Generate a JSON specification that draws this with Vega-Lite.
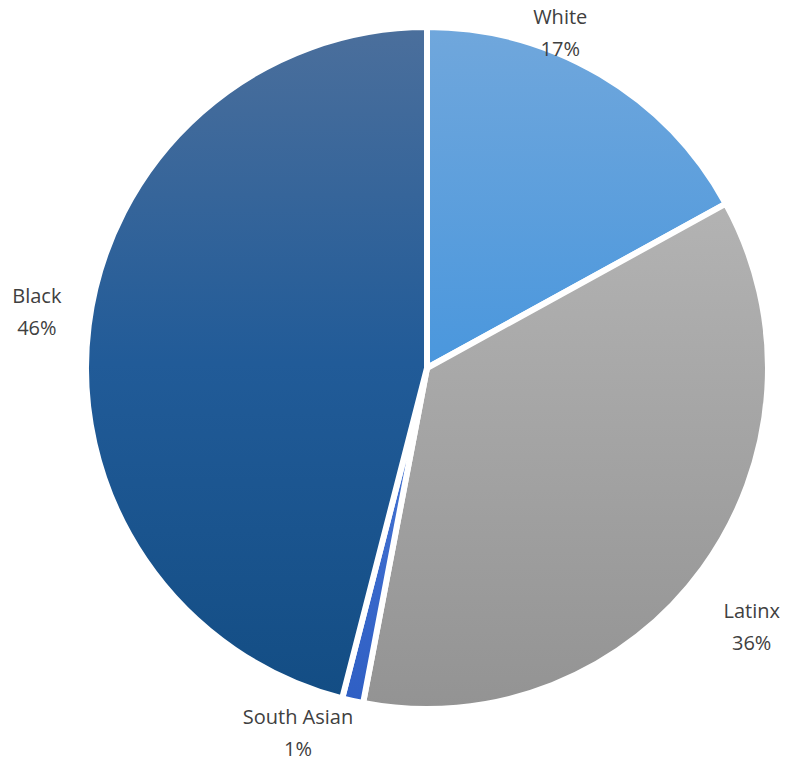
{
  "$schema": "https://vega.github.io/schema/vega-lite/v6.json",
  "width": 718,
  "height": 736,
  "autosize": {"type": "none"},
  "padding": {"left": 68, "top": 0, "right": 0, "bottom": 24},
  "background": "white",
  "data": {
    "values": [
      {"cat": "White", "value": 17, "label": "White\n17%"},
      {"cat": "Latinx", "value": 36, "label": "Latinx\n36%"},
      {"cat": "South Asian", "value": 1, "label": "South Asian\n1%"},
      {"cat": "Black", "value": 46, "label": "Black\n46%"}
    ]
  },
  "transform": [
    {"stack": "value", "groupby": [], "as": ["v0", "v1"]}
  ],
  "layer": [
    {
      "transform": [{"filter": "datum.cat === 'White'"}],
      "mark": {
        "type": "arc", "radius": 341, "stroke": "white", "strokeWidth": 6,
        "color": {"gradient": "linear", "x1": 0, "y1": 0, "x2": 0, "y2": 1,
          "stops": [{"offset": 0, "color": "#70a7dc"}, {"offset": 1, "color": "#4a97dd"}]}
      },
      "encoding": {
        "theta": {"field": "v0", "type": "quantitative", "scale": {"domain": [0, 100]}},
        "theta2": {"field": "v1"}
      }
    },
    {
      "transform": [{"filter": "datum.cat === 'Latinx'"}],
      "mark": {
        "type": "arc", "radius": 341, "stroke": "white", "strokeWidth": 6,
        "color": {"gradient": "linear", "x1": 0, "y1": 0, "x2": 0, "y2": 1,
          "stops": [{"offset": 0, "color": "#b3b3b3"}, {"offset": 1, "color": "#939393"}]}
      },
      "encoding": {
        "theta": {"field": "v0", "type": "quantitative", "scale": {"domain": [0, 100]}},
        "theta2": {"field": "v1"}
      }
    },
    {
      "transform": [{"filter": "datum.cat === 'South Asian'"}],
      "mark": {
        "type": "arc", "radius": 341, "stroke": "white", "strokeWidth": 6,
        "color": {"gradient": "linear", "x1": 0, "y1": 0, "x2": 0, "y2": 1,
          "stops": [{"offset": 0, "color": "#4a78d6"}, {"offset": 1, "color": "#2f5fc4"}]}
      },
      "encoding": {
        "theta": {"field": "v0", "type": "quantitative", "scale": {"domain": [0, 100]}},
        "theta2": {"field": "v1"}
      }
    },
    {
      "transform": [{"filter": "datum.cat === 'Black'"}],
      "mark": {
        "type": "arc", "radius": 341, "stroke": "white", "strokeWidth": 6,
        "color": {"gradient": "linear", "x1": 0, "y1": 0, "x2": 0, "y2": 1,
          "stops": [{"offset": 0, "color": "#4b6f9c"}, {"offset": 0.5, "color": "#215b98"}, {"offset": 1, "color": "#134d84"}]}
      },
      "encoding": {
        "theta": {"field": "v0", "type": "quantitative", "scale": {"domain": [0, 100]}},
        "theta2": {"field": "v1"}
      }
    },
    {
      "mark": {"type": "text", "font": "Open Sans", "fontSize": 20, "letterSpacing": 0.7, "color": "#404040", "lineBreak": "\n", "lineHeight": 32, "align": "center", "baseline": "middle", "dy": -16, "thetaOffset": -0.155},
      "encoding": {
        "theta": {"field": "value", "type": "quantitative", "stack": true},
        "order": {"field": "v0", "type": "quantitative"},
        "radius": {"value": 360},
        "text": {"condition": {"test": "datum.cat === 'White'", "field": "label"}, "value": ""}
      }
    },
    {
      "mark": {"type": "text", "font": "Open Sans", "fontSize": 20, "letterSpacing": 0.7, "color": "#404040", "lineBreak": "\n", "lineHeight": 32, "align": "center", "baseline": "middle", "dy": -16, "thetaOffset": 0.047},
      "encoding": {
        "theta": {"field": "value", "type": "quantitative", "stack": true},
        "order": {"field": "v0", "type": "quantitative"},
        "radius": {"value": 416},
        "text": {"condition": {"test": "datum.cat === 'Latinx'", "field": "label"}, "value": ""}
      }
    },
    {
      "mark": {"type": "text", "font": "Open Sans", "fontSize": 20, "letterSpacing": 0.7, "color": "#404040", "lineBreak": "\n", "lineHeight": 32, "align": "center", "baseline": "middle", "dy": -16, "thetaOffset": 0.119},
      "encoding": {
        "theta": {"field": "value", "type": "quantitative", "stack": true},
        "order": {"field": "v0", "type": "quantitative"},
        "radius": {"value": 388},
        "text": {"condition": {"test": "datum.cat === 'South Asian'", "field": "label"}, "value": ""}
      }
    },
    {
      "mark": {"type": "text", "font": "Open Sans", "fontSize": 20, "letterSpacing": 0.7, "color": "#404040", "lineBreak": "\n", "lineHeight": 32, "align": "center", "baseline": "middle", "dy": -16, "thetaOffset": 0.014},
      "encoding": {
        "theta": {"field": "value", "type": "quantitative", "stack": true},
        "order": {"field": "v0", "type": "quantitative"},
        "radius": {"value": 394},
        "text": {"condition": {"test": "datum.cat === 'Black'", "field": "label"}, "value": ""}
      }
    }
  ],
  "config": {"view": {"stroke": null}}
}
